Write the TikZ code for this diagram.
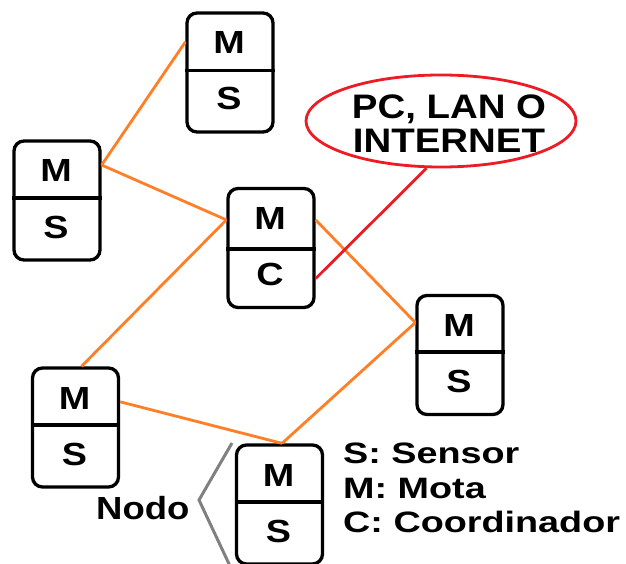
\documentclass[tikz,border=0pt]{standalone}
\usepackage{fontspec}
\setmainfont{Liberation Sans}
\newfontfamily\boxfont[FakeStretch=1.18]{Liberation Sans}
\newfontfamily\ellfont[FakeStretch=1.13]{Liberation Sans}
\newfontfamily\legfont[FakeStretch=1.28]{Liberation Sans}
\newfontfamily\nodofont[FakeStretch=1.14]{Liberation Sans}
\usetikzlibrary{shapes.geometric,calc}
\definecolor{lineorange}{RGB}{255,127,39}
\definecolor{ellred}{RGB}{237,28,36}
\definecolor{brgray}{RGB}{128,128,128}
\tikzset{
  unitbox/.style={draw, line width=3.3pt, rounded corners=10pt, minimum width=86pt, minimum height=119pt, inner sep=0pt},
  letter/.style={font=\boxfont\bfseries\fontsize{32}{38}\selectfont, anchor=base, inner sep=0pt},
  link/.style={draw=lineorange, line width=2.8pt},
  redlink/.style={draw=ellred, line width=2.8pt},
  cloud/.style={draw=ellred, line width=2.8pt, ellipse, minimum width=270pt, minimum height=92pt, inner sep=0pt},
  elltext/.style={font=\ellfont\bfseries\fontsize{34}{34}\selectfont, anchor=base, inner sep=0pt},
  legtext/.style={font=\legfont\bfseries\fontsize{29.5}{34}\selectfont, anchor=base west, inner sep=0pt},
  nodotext/.style={font=\nodofont\bfseries\fontsize{32}{36}\selectfont, anchor=base west, inner sep=0pt},
  bracket/.style={draw=brgray, line width=3pt},
}
\newcommand\drawunit[4]{%
  \node[unitbox] (#1) at (#2) {};
  \draw[line width=3.3pt] ($(#1.west)+(0,#4)$) -- ($(#1.east)+(0,#4)$);
  \node[letter] (#1-top) at ($(#1.center)+(-1,-18.5)$) {M};
  \node[letter] (#1-bot) at ($(#1.center)+(-1,37.5)$) {#3};
}
\begin{document}
\begin{tikzpicture}[x=1pt,y=-1pt]
\useasboundingbox (0,0) rectangle (626,564);
\drawunit{b1}{230,72.5}{S}{-1.8}
\drawunit{b2}{57,200.5}{S}{-2.5}
\drawunit{b3}{271,248}{C}{1}
\drawunit{b4}{460,355}{S}{-3}
\drawunit{b5}{75.5,427.5}{S}{-2.5}
\drawunit{b6}{279.5,504.5}{S}{-2.5}
% orange links
\draw[link] ($(b1.north west)!0.25!(b1.south west)$) -- ($(b2.north east)!0.21!(b2.south east)$);
\draw[link] ($(b2.north east)!0.21!(b2.south east)$) -- ($(b3.north west)!0.27!(b3.south west)$);
\draw[link] ($(b3.north west)!0.27!(b3.south west)$) -- ($(b5.north)+(6,0)$);
\draw[link] ($(b5.north east)!0.29!(b5.south east)$) -- ($(b6.north)+(2.5,0)$);
\draw[link] ($(b6.north)+(2.5,0)$) -- ($(b4.north west)!0.235!(b4.south west)$);
\draw[link] ($(b3.north east)!0.27!(b3.south east)$) -- ($(b4.north west)!0.235!(b4.south west)$);
% cloud
\node[cloud] (ell) at (441,121) {};
\node[elltext] (ell-l1) at (449,119) {PC, LAN O};
\node[elltext] (ell-l2) at (449,153) {INTERNET};
\draw[redlink] ($(b3.north east)!0.75!(b3.south east)$) -- (ell.253);
% bracket and label
\coordinate (brtop) at (232,443);
\coordinate (brmid) at (199,500);
\coordinate (brbot) at (230,566);
\draw[bracket] (brtop) -- (brmid) -- (brbot);
\node[nodotext] (nodo) at (96,519) {Nodo};
% legend
\node[legtext] (leg1) at (343,463) {S: Sensor};
\node[legtext] (leg2) at (343,498) {M: Mota};
\node[legtext] (leg3) at (343,532) {C: Coordinador};
\end{tikzpicture}
\end{document}
